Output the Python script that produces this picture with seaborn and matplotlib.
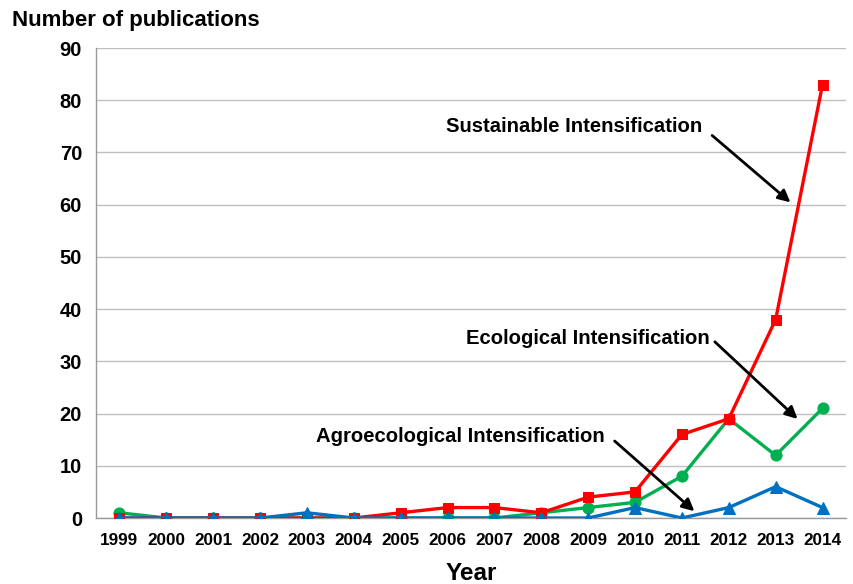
import numpy as np
import pandas as pd
import matplotlib
matplotlib.use('Agg')
import matplotlib.pyplot as plt
import seaborn as sns

years = list(range(1999, 2015))
sustainable = [0, 0, 0, 0, 0, 0, 1, 2, 2, 1, 4, 5, 16, 19, 38, 83]
ecological = [1, 0, 0, 0, 0, 0, 0, 0, 0, 1, 2, 3, 8, 19, 12, 21]
agroecological = [0, 0, 0, 0, 1, 0, 0, 0, 0, 0, 0, 2, 0, 2, 6, 2]

sns.set_style('white')
plt.rcParams['font.family'] = ['Liberation Sans', 'DejaVu Sans']
plt.rcParams['font.weight'] = 'bold'
plt.rcParams['text.color'] = 'black'
plt.rcParams['xtick.color'] = 'black'
plt.rcParams['ytick.color'] = 'black'
plt.rcParams['axes.labelcolor'] = 'black'

fig = plt.figure(figsize=(8.54, 5.84), dpi=100)
ax = fig.add_axes([0.1124, 0.113, 0.8782, 0.8048])

pos = np.arange(len(years))
series = [
    (ecological, '#00B050', 'o', 8),
    (sustainable, '#FF0000', 's', 7),
    (agroecological, '#0070C0', '^', 8),
]
for vals, col, mk, ms in series:
    sns.lineplot(x=pos, y=vals, ax=ax, color=col, marker=mk, markersize=ms,
                 markeredgecolor=col, linewidth=2.4, zorder=3)

ax.set_xlim(-0.5, 15.5)
ax.set_ylim(0, 90)
ax.set_yticks(range(0, 91, 10))
ax.set_xticks(pos)
ax.set_xticklabels(years)
ax.set_xticks(np.arange(-0.5, 16, 1), minor=True)
ax.tick_params(axis='x', which='major', length=0, pad=11, labelsize=12.3,
               labelcolor='black')
ax.tick_params(axis='x', which='minor', length=6, color='#999999', direction='out')
ax.tick_params(axis='y', length=5, color='#999999', direction='out', labelsize=14.5,
               pad=5, labelcolor='black')
for lab in ax.get_xticklabels() + ax.get_yticklabels():
    lab.set_fontweight('bold')

ax.grid(axis='y', color='#BFBFBF', linewidth=1)
ax.set_axisbelow(True)
for s in ['top', 'right']:
    ax.spines[s].set_visible(False)
for s in ['left', 'bottom']:
    ax.spines[s].set_color('#999999')
    ax.spines[s].set_linewidth(1)

ax.set_xlabel('Year', fontsize=17.5, fontweight='bold', labelpad=10, color='black')
fig.text(0.014, 0.965, 'Number of publications', fontsize=16, fontweight='bold',
         ha='left', va='center', color='black')

arrow = dict(arrowstyle='-|>', color='black', lw=2, mutation_scale=18)
ax.annotate('', xy=(14.36, 60.1), xytext=(12.6, 73.6), arrowprops=arrow)
ax.text(6.96, 74.9, 'Sustainable Intensification', fontsize=14.6, fontweight='bold',
        ha='left', va='center', color='black')
ax.annotate('', xy=(14.51, 18.6), xytext=(12.66, 34.1), arrowprops=arrow)
ax.text(7.4, 34.3, 'Ecological Intensification', fontsize=14.6, fontweight='bold',
        ha='left', va='center', color='black')
ax.annotate('', xy=(12.31, 0.95), xytext=(10.52, 15.1), arrowprops=arrow)
ax.text(4.2, 15.7, 'Agroecological Intensification', fontsize=14.6, fontweight='bold',
        ha='left', va='center', color='black')

fig.savefig('out.png', dpi=100)
